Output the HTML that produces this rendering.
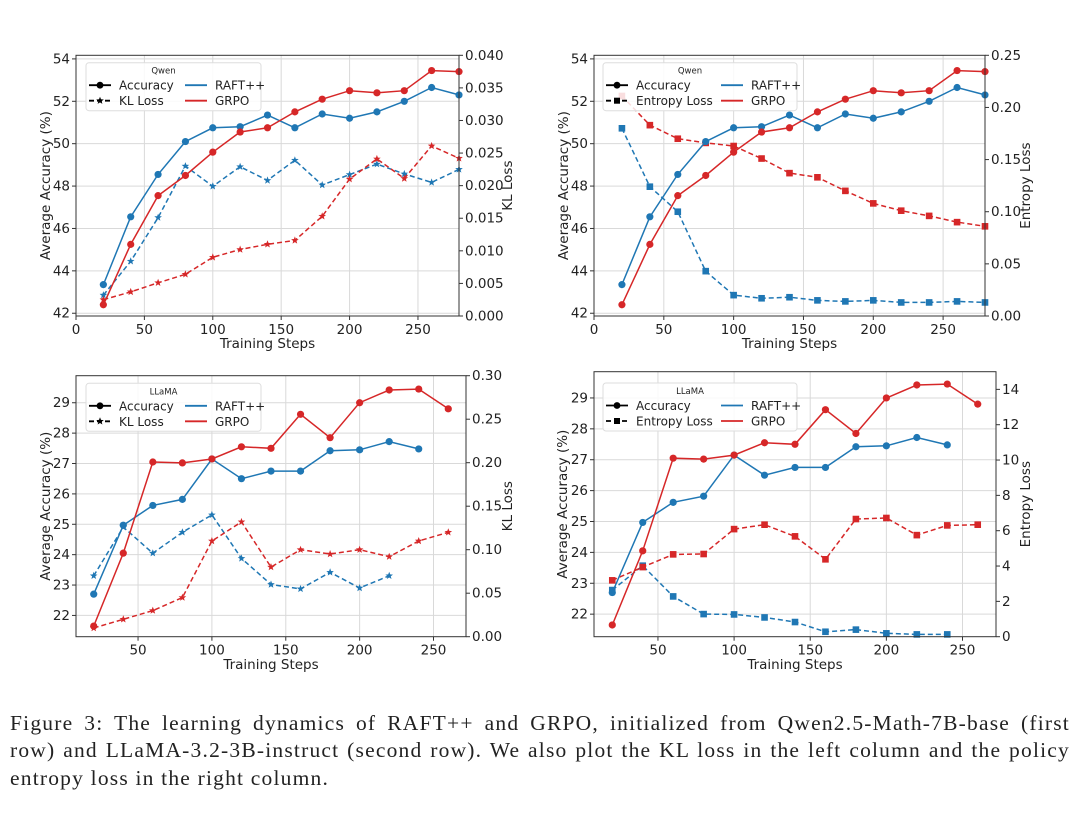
<!DOCTYPE html>
<html><head><meta charset="utf-8">
<style>
body{margin:0;background:#fff;width:1080px;height:840px;overflow:hidden;}
svg text{font-family:"DejaVu Sans","Liberation Sans",sans-serif;fill:#222;}
#caption{position:absolute;left:10px;top:710px;width:1060px;font-family:"Liberation Serif",serif;font-size:21.5px;line-height:27.3px;color:#222;letter-spacing:1.2px;}
#caption .jl{text-align:justify;text-align-last:justify;white-space:nowrap;}
</style></head>
<body>
<svg id="fig" width="1080" height="700" style="position:absolute;left:0;top:0"></svg>
<div id="caption"><div class="jl">Figure 3: The learning dynamics of RAFT++ and GRPO, initialized from Qwen2.5-Math-7B-base (first</div><div class="jl">row) and LLaMA-3.2-3B-instruct (second row). We also plot the KL loss in the left column and the policy</div><div>entropy loss in the right column.</div></div>
<script>
// ---- data ----
const qwenSteps = [20,40,60,80,100,120,140,160,180,200,220,240,260,280];
const qwenRaftAcc = [43.35,46.55,48.55,50.1,50.75,50.8,51.35,50.75,51.4,51.2,51.5,52.0,52.65,52.3];
const qwenGrpoAcc = [42.4,45.25,47.55,48.5,49.6,50.55,50.75,51.5,52.1,52.5,52.4,52.5,53.45,53.4];
const qwenRaftKL = [0.0032,0.0084,0.0151,0.0230,0.0199,0.0229,0.0208,0.0239,0.0201,0.0217,0.0233,0.0218,0.0205,0.0225];
const qwenGrpoKL = [0.0025,0.0037,0.0051,0.0064,0.0090,0.0102,0.0110,0.0116,0.0153,0.0210,0.0241,0.0211,0.0261,0.0242];
const qwenRaftEnt = [0.180,0.124,0.100,0.043,0.020,0.017,0.018,0.015,0.014,0.015,0.013,0.013,0.014,0.013];
const qwenGrpoEnt = [0.211,0.183,0.170,0.166,0.163,0.151,0.137,0.133,0.120,0.108,0.101,0.096,0.090,0.086];
const llamaRaftSteps = [20,40,60,80,100,120,140,160,180,200,220,240];
const llamaGrpoSteps = [20,40,60,80,100,120,140,160,180,200,220,240,260];
const llamaRaftAcc = [22.7,24.97,25.62,25.82,27.15,26.5,26.75,26.75,27.42,27.45,27.72,27.48];
const llamaGrpoAcc = [21.65,24.05,27.05,27.02,27.15,27.55,27.5,28.62,27.85,29.0,29.42,29.45,28.8];
const llamaRaftKLSteps = [20,40,60,80,100,120,140,160,180,200,220];
const llamaRaftKL = [0.070,0.126,0.096,0.120,0.140,0.090,0.060,0.055,0.074,0.056,0.070];
const llamaGrpoKL = [0.010,0.020,0.030,0.045,0.110,0.132,0.080,0.100,0.095,0.100,0.092,0.110,0.120];
const llamaRaftEnt = [2.64,4.02,2.28,1.28,1.26,1.09,0.83,0.28,0.40,0.19,0.13,0.13];
const llamaGrpoEnt = [3.19,3.94,4.66,4.68,6.09,6.34,5.68,4.38,6.66,6.72,5.75,6.30,6.34];
const qwenXTicks = [0,50,100,150,200,250];
const llamaXTicks = [50,100,150,200,250];
const qwenAccTicks = [42,44,46,48,50,52,54];
const llamaAccTicks = [22,23,24,25,26,27,28,29];
const qwenKLTicks = [0,0.005,0.01,0.015,0.02,0.025,0.03,0.035,0.04];
const qwenEntTicks = [0,0.05,0.1,0.15,0.2,0.25];
const llamaKLTicks = [0,0.05,0.1,0.15,0.2,0.25,0.3];
const llamaEntTicks = [0,2,4,6,8,10,12,14];

const BLUE='#1f77b4', RED='#d62728';
const NS='http://www.w3.org/2000/svg';
const svg=document.getElementById('fig');
function mk(tag,attrs,parent){const e=document.createElementNS(NS,tag);for(const k in attrs)e.setAttribute(k,attrs[k]);(parent||svg).appendChild(e);return e;}

function starPts(cx,cy,r){let p=[];for(let i=0;i<10;i++){const a=-Math.PI/2+i*Math.PI/5;const rr=i%2?r*0.42:r;p.push((cx+rr*Math.cos(a)).toFixed(1)+','+(cy+rr*Math.sin(a)).toFixed(1));}return p.join(' ');}

function panel(cfg){
  const g=mk('g',{});
  
  
  const L=cfg.l,R=cfg.r,T=cfg.t,B=cfg.b;
  const sx=v=>L+(v-cfg.xmin)/(cfg.xmax-cfg.xmin)*(R-L);
  const sy=v=>B-(v-cfg.ymin)/(cfg.ymax-cfg.ymin)*(B-T);
  const sy2=v=>B-(v-cfg.y2min)/(cfg.y2max-cfg.y2min)*(B-T);
  cfg.xticks.forEach(t=>{const x=sx(t);const ln=mk('line',{x1:x,x2:x,y1:T,y2:B,stroke:'#d9d9d9','stroke-width':1},g);});
  cfg.yticks.forEach(t=>{const y=sy(t);const ln=mk('line',{x1:L,x2:R,y1:y,y2:y,stroke:'#d9d9d9','stroke-width':1},g);});
  cfg.xticks.forEach(t=>{const x=sx(t);mk('line',{x1:x,x2:x,y1:B,y2:B+4,stroke:'#333'},g);const tx=mk('text',{x:x,y:B+18,'text-anchor':'middle','font-size':13.5},g);tx.textContent=t;});
  cfg.yticks.forEach(t=>{const y=sy(t);mk('line',{x1:L-4,x2:L,y1:y,y2:y,stroke:'#333'},g);const tx=mk('text',{x:L-6,y:y+4.5,'text-anchor':'end','font-size':13.5},g);tx.textContent=t;});
  cfg.y2ticks.forEach(t=>{const y=sy2(t);mk('line',{x1:R,x2:R+4,y1:y,y2:y,stroke:'#333'},g);const tx=mk('text',{x:R+6,y:y+4.5,'font-size':13.5},g);tx.textContent=t.toFixed(cfg.y2dec);});
  function series(xs,ys,scale,color,dashed,marker,name){
    const sg=mk('g',{},g);
    
    
    const pts=xs.map((x,i)=>sx(x).toFixed(1)+','+scale(ys[i]).toFixed(1)).join(' ');
    const pl=mk('polyline',{points:pts,fill:'none',stroke:color,'stroke-width':1.5,'stroke-dasharray':dashed?'5,3':'none'},sg);
    
    
    xs.forEach((x,i)=>{const cx=sx(x),cy=scale(ys[i]);let m;
      if(marker==='o')m=mk('circle',{cx:cx,cy:cy,r:3.6,fill:color},sg);
      else if(marker==='s')m=mk('rect',{x:cx-3.3,y:cy-3.3,width:6.6,height:6.6,fill:color},sg);
      else m=mk('polygon',{points:starPts(cx,cy,4),fill:color},sg);
      
      });
  }
  const lm=cfg.loss==='kl'?'*':'s';
  series(cfg.raftLossX,cfg.raftLoss,sy2,BLUE,true,lm,'raft-loss');
  series(cfg.grpoLossX,cfg.grpoLoss,sy2,RED,true,lm,'grpo-loss');
  series(cfg.raftX,cfg.raftAcc,sy,BLUE,false,'o','raft-accuracy');
  series(cfg.grpoX,cfg.grpoAcc,sy,RED,false,'o','grpo-accuracy');
  const fr=mk('rect',{x:L,y:T,width:R-L,height:B-T,fill:'none',stroke:'#333','stroke-width':1},g);
  
  const xl=mk('text',{x:(L+R)/2,y:cfg.xlabY,'text-anchor':'middle','font-size':13.5},g);xl.textContent='Training Steps';
  
  const yl=mk('text',{x:0,y:0,'text-anchor':'middle','font-size':13.5,transform:`translate(${cfg.ylabX},${(T+B)/2}) rotate(-90)`},g);yl.textContent='Average Accuracy (%)';
  
  const y2l=mk('text',{x:0,y:0,'text-anchor':'middle','font-size':13.5,transform:`translate(${cfg.y2labX},${(T+B)/2}) rotate(-90)`},g);y2l.textContent=cfg.loss==='kl'?'KL Loss':'Entropy Loss';
  
  const lg=mk('g',{},g);
  
  
  const lx=cfg.legX,ly=cfg.legY,lw=cfg.legW;
  mk('rect',{x:lx,y:ly,width:lw,height:48,rx:3,fill:'rgba(255,255,255,0.85)',stroke:'#ddd'},lg);
  const tt=mk('text',{x:lx+lw/2-10,y:ly+11,'text-anchor':'middle','font-size':8.5},lg);tt.textContent=cfg.title;
  
  const r1=ly+22.5,r2=ly+38;
  function entry(hx,y,color,dash,marker,label,nm){
    const e=mk('g',{},lg);
    
    
    mk('line',{x1:hx,x2:hx+22,y1:y,y2:y,stroke:color,'stroke-width':1.8,'stroke-dasharray':dash?'5,3':'none'},e);
    if(marker==='o')mk('circle',{cx:hx+11,cy:y,r:3.4,fill:color},e);
    else if(marker==='s')mk('rect',{x:hx+8,y:y-3,width:6,height:6,fill:color},e);
    else if(marker==='*')mk('polygon',{points:starPts(hx+11,y,4),fill:color},e);
    const t=mk('text',{x:hx+30,y:y+4.5,'font-size':12},e);t.textContent=label;
  }
  entry(lx+3,r1,'#000',false,'o','Accuracy','legend-entry-accuracy');
  entry(lx+3,r2,'#000',true,lm,cfg.loss==='kl'?'KL Loss':'Entropy Loss','legend-entry-loss');
  entry(lx+cfg.legCol2,r1,BLUE,false,null,'RAFT++','legend-entry-raft');
  entry(lx+cfg.legCol2,r2,RED,false,null,'GRPO','legend-entry-grpo');
}

panel({name:'qwen-kl-panel',l:76,r:459,t:55.3,b:316,xmin:0,xmax:280,ymin:41.87,ymax:54.17,y2min:0,y2max:0.04,y2dec:3,
 xticks:qwenXTicks,yticks:qwenAccTicks,y2ticks:qwenKLTicks,loss:'kl',title:'Qwen',
 raftX:qwenSteps,grpoX:qwenSteps,raftAcc:qwenRaftAcc,grpoAcc:qwenGrpoAcc,
 raftLossX:qwenSteps,grpoLossX:qwenSteps,raftLoss:qwenRaftKL,grpoLoss:qwenGrpoKL,
 xlabY:348,ylabX:50,y2labX:512,legX:86,legY:62.7,legW:175,legCol2:99});
panel({name:'qwen-entropy-panel',l:594,r:985,t:55.3,b:316,xmin:0,xmax:280,ymin:41.87,ymax:54.17,y2min:0,y2max:0.25,y2dec:2,
 xticks:qwenXTicks,yticks:qwenAccTicks,y2ticks:qwenEntTicks,loss:'ent',title:'Qwen',
 raftX:qwenSteps,grpoX:qwenSteps,raftAcc:qwenRaftAcc,grpoAcc:qwenGrpoAcc,
 raftLossX:qwenSteps,grpoLossX:qwenSteps,raftLoss:qwenRaftEnt,grpoLoss:qwenGrpoEnt,
 xlabY:348,ylabX:568,y2labX:1030,legX:603,legY:62.7,legW:194,legCol2:118});
panel({name:'llama-kl-panel',l:76,r:466,t:375.7,b:636.7,xmin:8,xmax:272,ymin:21.3,ymax:29.89,y2min:0,y2max:0.3,y2dec:2,
 xticks:llamaXTicks,yticks:llamaAccTicks,y2ticks:llamaKLTicks,loss:'kl',title:'LLaMA',
 raftX:llamaRaftSteps,grpoX:llamaGrpoSteps,raftAcc:llamaRaftAcc,grpoAcc:llamaGrpoAcc,
 raftLossX:llamaRaftKLSteps,grpoLossX:llamaGrpoSteps,raftLoss:llamaRaftKL,grpoLoss:llamaGrpoKL,
 xlabY:669,ylabX:50,y2labX:512,legX:86,legY:383.3,legW:175,legCol2:99});
panel({name:'llama-entropy-panel',l:594,r:996,t:371.7,b:636.7,xmin:8,xmax:272,ymin:21.27,ymax:29.85,y2min:0,y2max:15,y2dec:0,
 xticks:llamaXTicks,yticks:llamaAccTicks,y2ticks:llamaEntTicks,loss:'ent',title:'LLaMA',
 raftX:llamaRaftSteps,grpoX:llamaGrpoSteps,raftAcc:llamaRaftAcc,grpoAcc:llamaGrpoAcc,
 raftLossX:llamaRaftSteps,grpoLossX:llamaGrpoSteps,raftLoss:llamaRaftEnt,grpoLoss:llamaGrpoEnt,
 xlabY:669,ylabX:567,y2labX:1030,legX:603,legY:383,legW:194,legCol2:118});
</script>
</body></html>
